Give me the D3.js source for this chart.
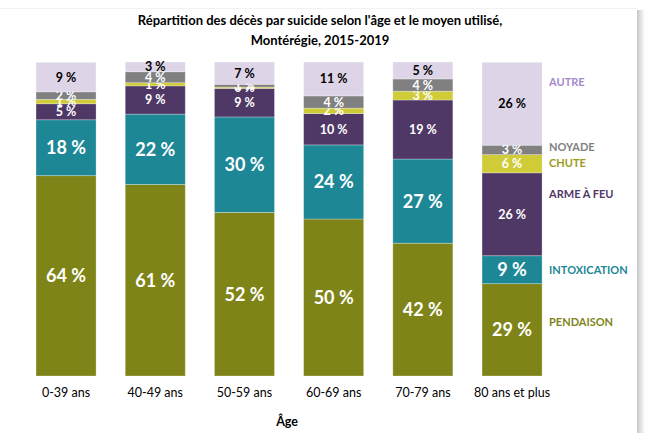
<!DOCTYPE html>
<html><head><meta charset="utf-8">
<script src="https://cdn.jsdelivr.net/npm/d3@7"></script>
<style>
html,body{margin:0;padding:0;background:#fff;}
svg{display:block;font-family:Lato,"Open Sans",sans-serif;}
</style></head>
<body>
<svg id="chart" width="645" height="433"></svg>
<script>
const categories = ["0-39 ans","40-49 ans","50-59 ans","60-69 ans","70-79 ans","80 ans et plus"];
const seriesNames = ["PENDAISON","INTOXICATION","ARME À FEU","CHUTE","NOYADE","AUTRE"];
const pendaison    = [63.8, 61.0, 52.1, 50.0, 42.3, 29.4];
const intoxication = [17.8, 22.4, 30.4, 23.6, 26.8, 8.9];
const armeAFeu     = [5.1, 9.0, 9.1, 10.0, 18.8, 26.4];
const chute        = [1.4, 1.0, 0.4, 1.7, 2.8, 5.8];
const noyade       = [2.4, 3.5, 0.9, 3.9, 3.9, 3.0];
const autre        = [9.4, 3.1, 7.1, 10.8, 5.4, 26.4];
const title = ["Répartition des décès par suicide selon l'âge et le moyen utilisé,", "Montérégie, 2015-2019"];
const xTitle = "Âge";

const seriesValues = [pendaison, intoxication, armeAFeu, chute, noyade, autre];
const fills = ["#7F8418","#1E8796","#4F3866","#CFCC37","#808080","#DDD5E7"];
const legendColors = ["#7F8418","#1E8796","#4F3866","#9E9B1E","#808080","#A48ACB"];
const labelColors = ["#fff","#fff","#fff","#fff","#fff","#000"];
const labelSizes = [18,18,12.5,12.5,12.5,12.5];
const legendOffsets = [-8,0,-20,-1,-3,-22];

const svg = d3.select("#chart");

// right shadow frame
const defs = svg.append("defs");
const g1 = defs.append("linearGradient").attr("id","sh").attr("x1","0").attr("x2","1");
g1.append("stop").attr("offset","0").attr("stop-color","#c8c8c8");
g1.append("stop").attr("offset","1").attr("stop-color","#ffffff");
svg.append("rect").attr("x",637).attr("y",10).attr("width",8).attr("height",423).attr("fill","url(#sh)");
svg.append("line").attr("x1",0).attr("x2",637).attr("y1",8.5).attr("y2",8.5).attr("stroke","#f2f2f2");

const rows = categories.map((c,i)=>{
  const o = {cat:c};
  seriesNames.forEach((s,j)=>o[s]=seriesValues[j][i]);
  return o;
});
const stack = d3.stack().keys(seriesNames)(rows);
const x = d3.scaleBand().domain(categories).range([21.4,556.7]).paddingInner(0.327).paddingOuter(0.164);
const y = d3.scaleLinear().domain([0,100]).range([376,62]);

const layers = svg.append("g").selectAll("g").data(stack).join("g");
layers.each(function(layer, j){
  const g = d3.select(this);
  g.selectAll("rect").data(layer).join("rect")
    .attr("x", d=>x(d.data.cat))
    .attr("width", x.bandwidth())
    .attr("y", d=>y(d[1]))
    .attr("height", d=>y(d[0])-y(d[1]))
    .attr("fill", fills[j])
    .attr("stroke","rgba(255,255,255,0.35)")
    .attr("stroke-width",0.8);
});
layers.each(function(layer, j){
  const g = d3.select(this);
  g.selectAll("text").data(layer).join("text")
    .attr("x", d=>x(d.data.cat)+x.bandwidth()/2)
    .attr("y", d=>(y(d[0])+y(d[1]))/2)
    .attr("dy","0.36em")
    .attr("text-anchor","middle")
    .attr("font-weight","bold")
    .attr("font-size", labelSizes[j])
    .attr("fill", labelColors[j])
    .text(d=>Math.round(d[1]-d[0]) + " %");
});

// series name labels next to last bar
const last = categories.length-1;
svg.append("g").selectAll("text").data(stack).join("text")
  .attr("x", x(categories[last])+x.bandwidth()+7)
  .attr("y", (d,j)=>(y(d[last][0])+y(d[last][1]))/2 + legendOffsets[j])
  .attr("dy","0.36em")
  .attr("font-size",11)
  .attr("font-weight","bold")
  .attr("fill",(d,j)=>legendColors[j])
  .text(d=>d.key);

// x axis labels
const xAxis = d3.axisBottom(x).tickSize(0).tickPadding(12);
const ax = svg.append("g").attr("transform","translate(0,376)").call(xAxis);
ax.select(".domain").remove();
ax.selectAll("text").attr("font-size",12.5).attr("fill","#000").attr("font-family","Lato,sans-serif");

svg.append("text").attr("x",x.range()[0]+ (x.range()[1]-x.range()[0])/2 - 2).attr("y",426)
  .attr("text-anchor","middle").attr("font-weight","bold").attr("font-size",12.5).text(xTitle);

svg.append("g").selectAll("text").data(title).join("text")
  .attr("x",320).attr("y",(d,i)=>25+i*20)
  .attr("text-anchor","middle").attr("font-weight","bold").attr("font-size",13).attr("fill","#000")
  .text(d=>d);
</script>
</body></html>
